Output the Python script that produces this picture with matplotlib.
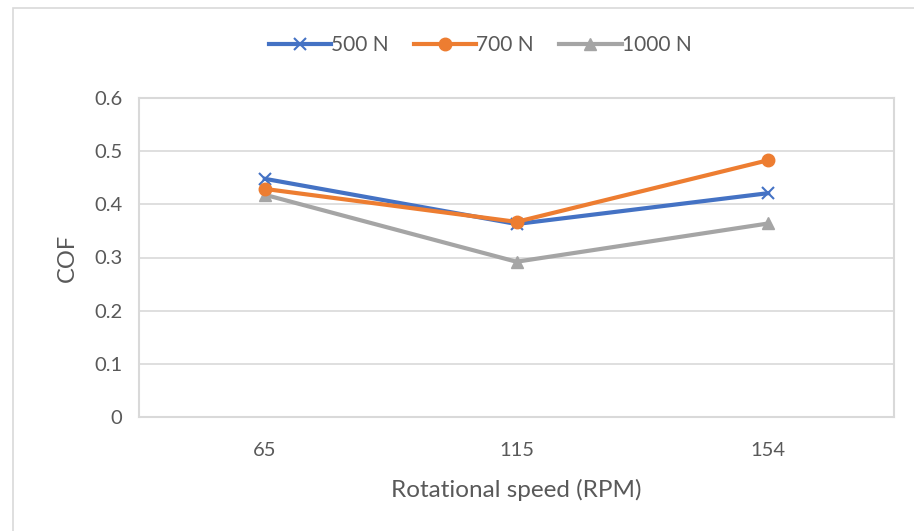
import matplotlib.pyplot as plt
from matplotlib.patches import Rectangle

speeds = ['65', '115', '154']
cof_500 = [0.448, 0.363, 0.421]
cof_700 = [0.429, 0.367, 0.483]
cof_1000 = [0.418, 0.292, 0.364]

plt.rcParams['font.family'] = ['Lato', 'DejaVu Sans']

fig = plt.figure(figsize=(9.14, 5.31), dpi=100)
fig.patches.append(Rectangle((13 / 914, -0.1), 1.2, (531 - 8) / 531 + 0.1,
                             transform=fig.transFigure, fill=False,
                             edgecolor='#d9d9d9', linewidth=1.2))
ax = fig.add_axes([139 / 914, 1 - 417 / 531, (894 - 139) / 914, (417 - 98) / 531])

x = range(len(speeds))
ax.plot(x, cof_500, color='#4472c4', linewidth=3, marker='x', markersize=9,
        markeredgewidth=1.5, label='500 N', zorder=3)
ax.plot(x, cof_700, color='#ed7d31', linewidth=3, marker='o', markersize=9,
        label='700 N', zorder=3)
ax.plot(x, cof_1000, color='#a5a5a5', linewidth=3, marker='^', markersize=9,
        label='1000 N', zorder=2)

ax.set_xlim(-0.5, 2.5)
ax.set_ylim(0, 0.6)
ax.set_xticks(list(x))
ax.set_xticklabels(speeds)
ax.set_yticks([0, 0.1, 0.2, 0.3, 0.4, 0.5, 0.6])
ax.set_yticklabels(['0', '0.1', '0.2', '0.3', '0.4', '0.5', '0.6'])
ax.grid(axis='y', color='#d9d9d9', linewidth=1.2)
ax.set_axisbelow(True)
for s in ax.spines.values():
    s.set_color('#d9d9d9')
    s.set_linewidth(1.5)
ax.tick_params(length=0, labelsize=14.5, colors='#595959', pad=12)
ax.tick_params(axis='x', pad=18)

ax.set_xlabel('Rotational speed (RPM)', fontsize=17.5, color='#595959', labelpad=14)
ax.set_ylabel('COF', fontsize=17, color='#595959', labelpad=12)

ax.legend(loc='center', bbox_to_anchor=(480 / 914, 1 - 45 / 531),
          bbox_transform=fig.transFigure, ncol=3, frameon=False,
          fontsize=15, labelcolor='#595959', handlelength=3.0,
          handletextpad=0.0, columnspacing=1.2)

fig.savefig('out.png', dpi=100)
